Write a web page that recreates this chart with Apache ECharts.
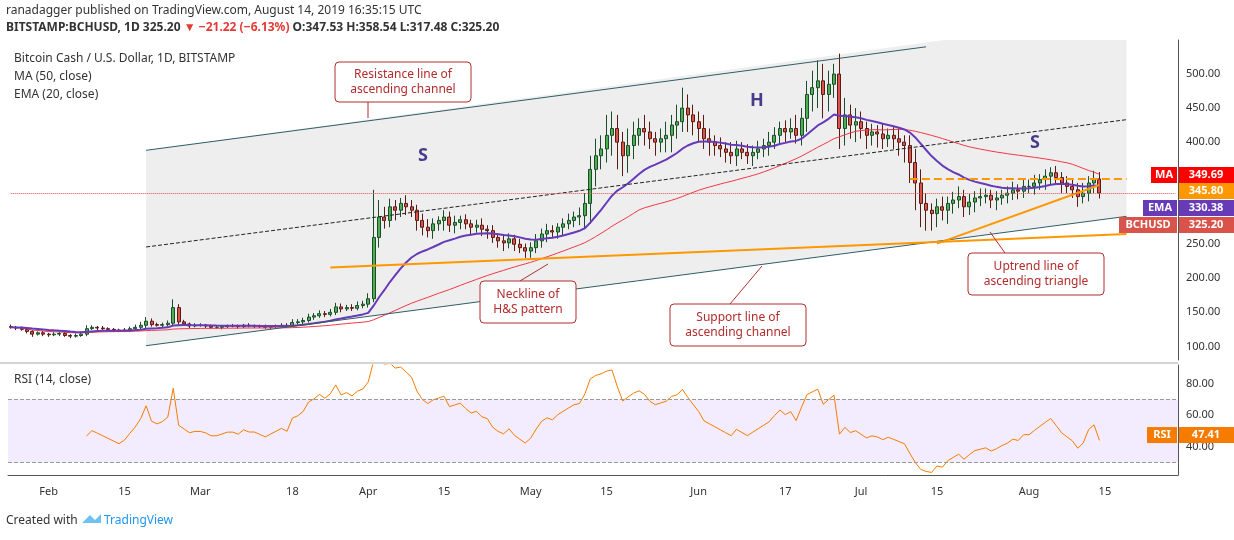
<!DOCTYPE html>
<html><head><meta charset="utf-8">
<script src="https://cdn.jsdelivr.net/npm/echarts@6/dist/echarts.min.js"></script>
<style>body{margin:0;background:#fff}#c{width:1234px;height:540px}</style></head>
<body><div id="c"></div>
<script>
const startDate='2019-01-25', endDate='2019-08-28';
const closes=[128,127,125,122,118,120,118,
117,118,119,116,115,116,118,126,128,127,126,125,124,123,124,126,128,131,137,132,131,132,134,157,136,133,130,131,
131,130,128,128,129,130,130,129,131,130,130,129,128,129,130,131,130,135,136,138,143,145,148,147,150,158,155,157,156,160,162,
170,260,290,285,305,300,310,305,300,285,275,270,280,285,290,278,282,286,280,275,278,272,270,260,255,252,258,250,245,240,
245,255,265,270,268,275,280,285,290,292,310,360,380,390,410,420,400,380,395,410,420,415,405,400,405,410,425,430,450,440,430,
420,405,400,395,390,385,380,390,385,380,385,390,395,400,410,420,415,420,410,435,470,480,490,470,485,500,420,440,425,430,
420,410,415,412,405,410,405,400,395,370,340,310,300,295,305,300,310,315,320,305,312,318,320,322,315,318,322,325,330,328,335,
335,340,345,350,355,348,340,335,330,320,325,340,346,325.2];
const upWick=[3,2,2,3,2,2,3,
2,3,2,2,2,3,4,5,3,2,3,2,2,2,3,3,4,5,6,4,3,3,4,12,5,3,2,3,
3,2,2,3,2,2,3,2,2,3,2,2,3,2,2,3,3,5,4,4,5,4,5,4,5,6,5,4,5,6,5,
8,70,25,15,12,10,8,12,10,8,10,12,8,6,10,8,10,6,8,6,8,10,6,8,6,10,8,6,8,6,
8,10,8,10,8,6,8,10,8,12,15,20,25,20,30,25,20,15,25,20,15,20,15,10,15,20,15,25,30,20,15,
15,20,15,10,12,10,15,12,10,12,10,12,10,15,12,10,12,15,20,15,20,25,30,25,20,15,30,25,15,20,
15,10,12,10,15,10,12,15,10,15,20,20,15,10,12,15,10,12,15,10,12,10,12,10,8,10,8,10,12,8,10,
10,12,8,10,8,10,8,10,12,10,15,10,12,10];
const downWick=[2,3,2,3,4,2,3,
3,2,3,2,3,2,2,3,2,3,2,2,3,2,2,3,2,3,4,3,2,3,3,4,5,3,3,2,
2,3,2,2,3,2,2,3,2,2,3,2,2,3,2,2,3,2,3,4,3,4,3,4,3,4,5,3,4,3,4,
5,5,15,12,10,15,10,12,10,15,12,10,12,10,15,10,12,10,8,10,8,10,12,8,10,12,8,10,8,10,
10,8,10,12,8,10,12,8,10,12,20,30,25,20,20,30,40,30,25,20,15,20,15,20,15,20,25,20,15,25,20,
20,15,20,15,12,15,12,15,10,12,15,10,12,15,10,12,15,10,12,15,20,25,30,35,25,20,30,25,20,25,
15,20,15,20,15,12,15,20,25,30,40,35,30,25,20,15,20,15,12,15,12,15,12,10,12,15,10,12,10,12,10,
10,12,10,15,12,10,15,10,12,15,10,12,15,8];
const tickDates=['2019-02-01','2019-02-15','2019-03-01','2019-03-18','2019-04-01','2019-04-15','2019-05-01','2019-05-15','2019-06-01','2019-06-17','2019-07-01','2019-07-15','2019-08-01','2019-08-15'];
const tickTexts=['Feb','15','Mar','18','Apr','15','May','15','Jun','17','Jul','15','Aug','15'];
const priceTicks=[100,150,200,250,300,350,400,450,500];
const rsiTicks=[40,60,80];
const tags=[['MA','349.69','#ff0000','#ff0000'],['','345.80','','#ff9800'],['EMA','330.38','#673ab7','#673ab7'],['BCHUSD','325.20','#d9534a','#d9534a']];

const dates=[];{let d=new Date(startDate+'T00:00:00Z');const e=new Date(endDate+'T00:00:00Z');while(d<=e){dates.push(d.toISOString().slice(0,10));d=new Date(d.getTime()+864e5);}}
const candles=closes.map((c,i)=>{const o=i?closes[i-1]:c+1;return [o,c,Math.min(o,c)-downWick[i],Math.max(o,c)+upWick[i]];});
const ma=closes.map((c,i)=>{const s=closes.slice(Math.max(0,i-49),i+1);return +(s.reduce((a,b)=>a+b,0)/s.length).toFixed(2);});
const ema=[];closes.forEach((c,i)=>{ema.push(i?ema[i-1]+(c-ema[i-1])*2/21:c);});
const rsi=[];{let ag=0,al=0;closes.forEach((c,i)=>{if(!i){rsi.push('-');return;}const ch=c-closes[i-1];const g=Math.max(ch,0),l=Math.max(-ch,0);if(i<=14){ag+=g/14;al+=l/14;}else{ag=(ag*13+g)/14;al=(al*13+l)/14;}rsi.push(i<14?'-':+(100-100/(1+ag/(al||1e-9))).toFixed(2));});}

const chart=echarts.init(document.getElementById('c'));
const font='"Noto Sans",Arial,sans-serif';
const tl='#2f5d66';
function L(a,b,col,type,w){return [{coord:a,lineStyle:{color:col,type:type,width:w}},{coord:b}];}
const chLow=[['2019-02-19',101],['2019-08-19',291]];
const chUp=[['2019-02-19',388],['2019-08-19',587]];
chart.setOption({
 animation:false,
 grid:[{left:8,right:56,top:40,height:320},{left:8,right:56,top:365,height:110}],
 xAxis:[
  {type:'category',data:dates,gridIndex:0,boundaryGap:true,axisLine:{show:false},axisTick:{show:false},axisLabel:{show:false},splitLine:{show:false}},
  {type:'category',data:dates,gridIndex:1,boundaryGap:true,axisLine:{lineStyle:{color:'#555'}},axisTick:{show:false},
   axisLabel:{interval:(i,v)=>tickDates.includes(v),formatter:v=>tickTexts[tickDates.indexOf(v)],color:'#333',fontFamily:font,fontSize:11,margin:11},splitLine:{show:false}}
 ],
 yAxis:[
  {type:'value',gridIndex:0,position:'right',min:80,max:550,interval:10,axisLine:{show:true,lineStyle:{color:'#555'}},axisTick:{show:false},splitLine:{show:false},
   axisLabel:{color:'#333',fontFamily:font,fontSize:11,margin:8,formatter:v=>priceTicks.includes(v)?v.toFixed(2):''}},
  {type:'value',gridIndex:1,position:'right',min:22,max:92,interval:2,axisLine:{show:true,lineStyle:{color:'#555'}},axisTick:{show:false},splitLine:{show:false},
   axisLabel:{color:'#333',fontFamily:font,fontSize:11,margin:8,formatter:v=>rsiTicks.includes(v)?v.toFixed(2):''}}
 ],
 series:[
  {type:'custom',xAxisIndex:0,yAxisIndex:0,data:[0],z:1,silent:true,renderItem:(p,api)=>{
    const pts=[chLow[0],chLow[1],chUp[1],chUp[0]].map(q=>api.coord([dates.indexOf(q[0]),q[1]]));
    return {type:'polygon',shape:{points:pts},style:{fill:'rgba(200,200,200,0.3)'},clipPath:{type:'rect',shape:{x:p.coordSys.x,y:p.coordSys.y,width:p.coordSys.width,height:p.coordSys.height}}};}},
  {type:'candlestick',name:'BCHUSD',data:candles,barWidth:'65%',z:3,
   itemStyle:{color:'#4caf50',color0:'#d9534a',borderColor:'#1b4d2b',borderColor0:'#5b1a13',borderWidth:1},
   markLine:{symbol:'none',silent:true,label:{show:false},animation:false,data:[
     L(chLow[0],chLow[1],tl,'solid',1),
     L(['2019-02-19',388],['2019-07-13',540],tl,'solid',1),
     L(['2019-02-19',246],['2019-08-19',433],'#222','dashed',1),
     L(['2019-03-25',216],['2019-08-19',265],'#ff9800','solid',2),
     L(['2019-07-15',251],['2019-08-14',337],'#ff9800','solid',2),
     L(['2019-07-10',346],['2019-08-19',346],'#ff9800','dashed',2),
     [{coord:[dates[0],325.2],lineStyle:{color:'#d9534a',type:'dotted',width:1}},{coord:[dates[dates.length-1],325.2]}]
   ]}},
  {type:'line',name:'MA',data:ma,symbol:'none',lineStyle:{color:'#f23645',width:1},z:4},
  {type:'line',name:'EMA',data:ema.map(v=>+v.toFixed(2)),symbol:'none',lineStyle:{color:'#673ab7',width:2},z:4},
  {type:'line',name:'RSI',xAxisIndex:1,yAxisIndex:1,data:rsi,symbol:'none',lineStyle:{color:'#f57c00',width:1},
   markArea:{silent:true,itemStyle:{color:'rgba(153,102,255,0.12)'},data:[[{yAxis:30},{yAxis:70}]]},
   markLine:{symbol:'none',silent:true,label:{show:false},lineStyle:{color:'#999',type:'dashed',width:1},data:[{yAxis:30},{yAxis:70}]}}
 ]
});
function box(x,y,w,h,t,px1,py1,px2,py2){return [
 {type:'line',shape:{x1:px1,y1:py1,x2:px2,y2:py2},style:{stroke:'#b22c2c',lineWidth:1}},
 {type:'rect',shape:{x:x,y:y,width:w,height:h,r:4},style:{fill:'#fff',stroke:'#b22c2c',lineWidth:1}},
 {type:'text',x:x+w/2,y:y+h/2,style:{text:t,fill:'#b22c2c',font:'12px '+font,align:'center',verticalAlign:'middle',lineHeight:15}}];}
const T=(x,y,t,f,c)=>({type:'text',x:x,y:y,style:{text:t,font:f,fill:c||'#333'}});
let G=[
 T(6,5,'ranadagger published on TradingView.com, August 14, 2019 16:35:15 UTC','12px '+font,'#333'),
 {type:'text',x:6,y:22,style:{rich:{a:{font:'bold 12px '+font,fill:'#333'},r:{font:'bold 12px '+font,fill:'#e53935'}},text:'{a|BITSTAMP:BCHUSD, 1D 325.20 }{r|▼ −21.22 (−6.13%)}{a| O:347.53 H:358.54 L:317.48 C:325.20}'}},
 T(14,53,'Bitcoin Cash / U.S. Dollar, 1D, BITSTAMP','12px '+font),
 T(14,71,'MA (50, close)','12px '+font),
 T(14,89,'EMA (20, close)','12px '+font),
 T(14,374,'RSI (14, close)','12px '+font),
 {type:'line',shape:{x1:0,y1:363,x2:1178,y2:363},style:{stroke:'#aaa'}},
 T(6,515,'Created with','12px '+font),
 T(104,515,'TradingView','12px '+font,'#2196f3'),
 {type:'polygon',shape:{points:[[82,523],[90,515],[95,520],[101,514],[101,523]]},style:{fill:'#6ec1f0'}},
 T(418,147,'S','bold 18px '+font,'#4a3a8c'),T(750,92,'H','bold 18px '+font,'#4a3a8c'),T(1030,134,'S','bold 18px '+font,'#4a3a8c'),
 ...box(335,62,136,40,'Resistance line of\nascending channel',368,102,368,118),
 ...box(480,281,96,42,'Neckline of\nH&S pattern',520,281,548,264),
 ...box(670,304,136,42,'Support line of\nascending channel',730,304,762,266),
 ...box(968,253,136,42,'Uptrend line of\nascending triangle',1005,253,990,232),
];
const tagY=[175,191,208,225];
tags.forEach((t,i)=>{const y=tagY[i];
 G.push({type:'rect',shape:{x:1179,y:y-8,width:55,height:16},style:{fill:t[3]}},{type:'text',x:1206,y:y,style:{text:t[1],fill:'#fff',font:'bold 11px '+font,align:'center',verticalAlign:'middle'}});
 if(t[0]){const w=t[0].length*8+10;G.push({type:'rect',shape:{x:1177-w,y:y-8,width:w,height:16},style:{fill:t[2]}},{type:'text',x:1177-w/2,y:y,style:{text:t[0],fill:'#fff',font:'bold 11px '+font,align:'center',verticalAlign:'middle'}});}
});
const ry=chart.convertToPixel({yAxisIndex:1},47.41);
G.push({type:'rect',shape:{x:1179,y:ry-8,width:55,height:16},style:{fill:'#f57c00'}},{type:'text',x:1206,y:ry,style:{text:'47.41',fill:'#fff',font:'bold 11px '+font,align:'center',verticalAlign:'middle'}});
G.push({type:'rect',shape:{x:1147,y:ry-8,width:30,height:16},style:{fill:'#f57c00'}},{type:'text',x:1162,y:ry,style:{text:'RSI',fill:'#fff',font:'bold 11px '+font,align:'center',verticalAlign:'middle'}});
G.forEach(g=>{g.z=100;});
chart.setOption({graphic:G});
</script></body></html>
